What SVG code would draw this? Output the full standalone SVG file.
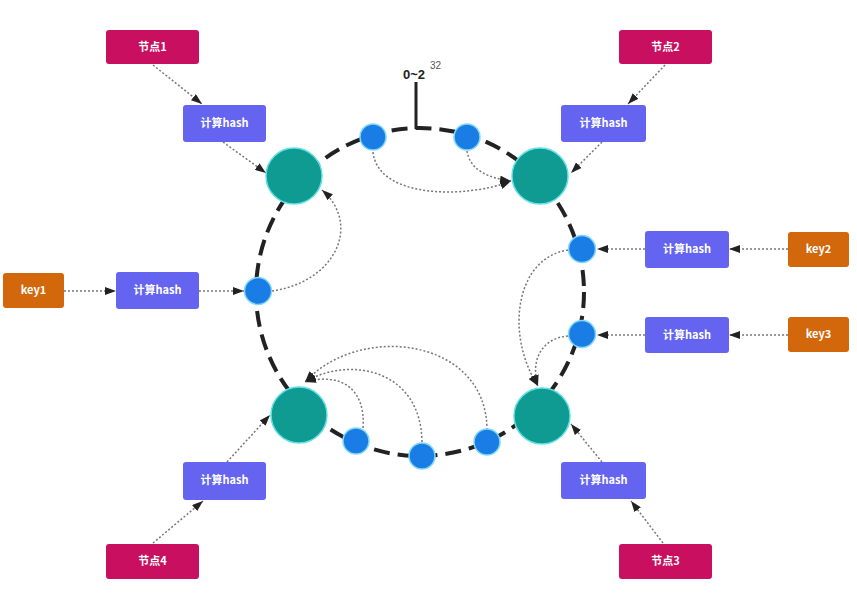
<svg xmlns="http://www.w3.org/2000/svg" width="857" height="606" viewBox="0 0 857 606">
<defs>
<marker id="ah" markerUnits="userSpaceOnUse" markerWidth="11" markerHeight="8" refX="11" refY="4" orient="auto">
<path d="M0,0 L11,4 L0,8 z" fill="#222"/>
</marker>
<style>
.jd{fill:#C90F60;}
.hs{fill:#6464F0;}
.ky{fill:#D2670C;}
.t{font-family:"Noto Sans CJK SC","Liberation Sans",sans-serif;font-size:11px;font-weight:bold;fill:#fff;text-anchor:middle;}
.tl{fill:#0F9A92;stroke:#5FE0E4;stroke-width:1.5;}
.bl{fill:#1A7DE6;stroke:#7FD8F5;stroke-width:1.5;}
.c{fill:none;stroke:#777;stroke-width:1.5;stroke-dasharray:2 2;marker-end:url(#ah);}
</style>
</defs>
<rect width="857" height="606" fill="#fff"/>
<g id="ring">
<circle cx="420" cy="292" r="164" fill="none" stroke="#222" stroke-width="4" stroke-dasharray="16 8"/>
<line x1="416" y1="82" x2="416" y2="129" stroke="#222" stroke-width="3"/>
<text x="403" y="79" font-family="Liberation Sans,sans-serif" font-size="13" font-weight="bold" fill="#222">0~2</text>
<text x="430" y="69" font-family="Liberation Sans,sans-serif" font-size="10" fill="#555">32</text>
</g>
<g id="connectors">
<path class="c" d="M153,65 L202,104"/>
<path class="c" d="M223,142 L266,173"/>
<path class="c" d="M665,65 L628,104"/>
<path class="c" d="M602,142 L571,173"/>
<path class="c" d="M153,543 L203,501"/>
<path class="c" d="M227,462 L270,415"/>
<path class="c" d="M663,543 L631,501"/>
<path class="c" d="M602,462 L571,424"/>
<path class="c" d="M64,291 L116,291"/>
<path class="c" d="M199,291 L244,291"/>
<path class="c" d="M788,249 L729,249"/>
<path class="c" d="M645,249 L597,249"/>
<path class="c" d="M788,335 L729,335"/>
<path class="c" d="M645,335 L597,335"/>
<path class="c" d="M272,291 C335,282 362,225 322,190"/>
<path class="c" d="M373,152 C378,200 470,198 511,181"/>
<path class="c" d="M467,151 C470,170 488,178 511,181"/>
<path class="c" d="M568,250 C515,258 505,335 538,386"/>
<path class="c" d="M568,336 C542,338 530,360 538,386"/>
<path class="c" d="M363,428 C366,388 340,372 305,382"/>
<path class="c" d="M422,442 C421,368 348,356 305,382"/>
<path class="c" d="M487,430 C487,338 360,322 305,382"/>
</g>
<g id="teal1"><circle class="tl" cx="294" cy="176" r="28"/></g>
<g id="teal2"><circle class="tl" cx="540" cy="176" r="28"/></g>
<g id="teal3"><circle class="tl" cx="542" cy="416" r="28"/></g>
<g id="teal4"><circle class="tl" cx="299" cy="415" r="28"/></g>
<g id="b1"><circle class="bl" cx="373" cy="137" r="13"/></g>
<g id="b2"><circle class="bl" cx="467" cy="137" r="13"/></g>
<g id="b3"><circle class="bl" cx="258" cy="291" r="13.5"/></g>
<g id="b4"><circle class="bl" cx="582" cy="249" r="13.5"/></g>
<g id="b5"><circle class="bl" cx="582" cy="334" r="13.5"/></g>
<g id="b6"><circle class="bl" cx="356" cy="441" r="13"/></g>
<g id="b7"><circle class="bl" cx="422" cy="456" r="13"/></g>
<g id="b8"><circle class="bl" cx="487" cy="442" r="13"/></g>
<g id="node1"><rect class="jd" x="106" y="30" width="93" height="34" rx="3"/><text class="t" x="152.5" y="51">节点1</text></g>
<g id="node2"><rect class="jd" x="619" y="30" width="93" height="34" rx="3"/><text class="t" x="665.5" y="51">节点2</text></g>
<g id="node3"><rect class="jd" x="619" y="544" width="93" height="35" rx="3"/><text class="t" x="665.5" y="565">节点3</text></g>
<g id="node4"><rect class="jd" x="106" y="544" width="93" height="35" rx="3"/><text class="t" x="152.5" y="565">节点4</text></g>
<g id="hash1"><rect class="hs" x="183" y="105" width="83" height="37" rx="3"/><text class="t" x="224.5" y="127">计算hash</text></g>
<g id="hash2"><rect class="hs" x="561" y="105" width="85" height="37" rx="3"/><text class="t" x="603.5" y="127">计算hash</text></g>
<g id="hash3"><rect class="hs" x="561" y="462" width="85" height="37" rx="3"/><text class="t" x="603.5" y="484">计算hash</text></g>
<g id="hash4"><rect class="hs" x="183" y="462" width="83" height="38" rx="3"/><text class="t" x="224.5" y="484">计算hash</text></g>
<g id="hashk1"><rect class="hs" x="116" y="272" width="83" height="37" rx="3"/><text class="t" x="157.5" y="294">计算hash</text></g>
<g id="hashk2"><rect class="hs" x="645" y="231" width="84" height="37" rx="3"/><text class="t" x="687" y="253">计算hash</text></g>
<g id="hashk3"><rect class="hs" x="645" y="317" width="84" height="36" rx="3"/><text class="t" x="687" y="339">计算hash</text></g>
<g id="key1"><rect class="ky" x="3" y="273" width="61" height="35" rx="3"/><text class="t" x="33.5" y="294">key1</text></g>
<g id="key2"><rect class="ky" x="788" y="232" width="61" height="35" rx="3"/><text class="t" x="818.5" y="253">key2</text></g>
<g id="key3"><rect class="ky" x="788" y="317" width="61" height="35" rx="3"/><text class="t" x="818.5" y="338">key3</text></g>
</svg>
